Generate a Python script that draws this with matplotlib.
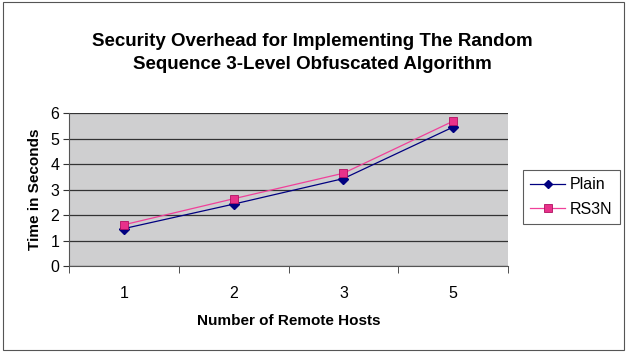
import matplotlib.pyplot as plt
from matplotlib.patches import Rectangle

hosts = ["1", "2", "3", "5"]
plain = [1.47, 2.43, 3.43, 5.45]
rs3n = [1.62, 2.64, 3.64, 5.68]

plt.rcParams['font.family'] = ['Liberation Sans', 'DejaVu Sans']

fig = plt.figure(figsize=(6.28, 3.52), dpi=100)
fig.patches.append(Rectangle((0.004, 0.006), 0.99, 0.988, transform=fig.transFigure,
                             fill=False, edgecolor='#555555', linewidth=0.8))
ax = fig.add_axes([0.11, 0.244, 0.699, 0.435])
ax.set_facecolor('#CFCFD0')

x = list(range(len(hosts)))
ax.plot(x, plain, color='#000080', lw=0.9, marker='D', ms=5, mfc='#000080',
        mec='#000080', label='Plain', zorder=3)
ax.plot(x, rs3n, color='#F0409A', lw=0.9, marker='s', ms=6, mfc='#E8318A',
        mec='#B01060', mew=0.6, label='RS3N', zorder=4)

ax.set_xlim(-0.5, len(hosts) - 0.5)
ax.set_ylim(0, 6)
ax.set_yticks(range(0, 7))
ax.set_xticks(x)
ax.set_xticklabels(hosts)
ax.set_xticks([i - 0.5 for i in range(len(hosts) + 1)], minor=True)
ax.tick_params(axis='x', which='major', length=0, pad=14, labelsize=11.5)
ax.tick_params(axis='x', which='minor', length=5, color='#333333', direction='out')
ax.tick_params(axis='y', length=4, color='#333333', labelsize=11.5, pad=3)
ax.yaxis.grid(True, color='#333333', lw=0.9)
ax.set_axisbelow(True)
for s in ['top', 'right']:
    ax.spines[s].set_visible(False)
ax.spines['left'].set_color('#555555')
ax.spines['bottom'].set_color('#555555')

ax.set_xlabel('Number of Remote Hosts', fontsize=11, fontweight='bold', labelpad=10)
ax.set_ylabel('Time in Seconds', fontsize=11, fontweight='bold', labelpad=6)

fig.text(0.498, 0.85, 'Security Overhead for Implementing The Random\nSequence 3-Level Obfuscated Algorithm',
         ha='center', va='center', fontsize=13.5, fontweight='bold', linespacing=1.45)

leg = fig.legend(loc='upper left', bbox_to_anchor=(0.82, 0.54), frameon=True,
                 fancybox=False, edgecolor='#333333', fontsize=11.5, handlelength=2.2,
                 borderpad=0.45, labelspacing=0.6, handletextpad=0.3, markerscale=0.85)
leg.get_frame().set_linewidth(0.8)

fig.savefig('out.png', dpi=100)
